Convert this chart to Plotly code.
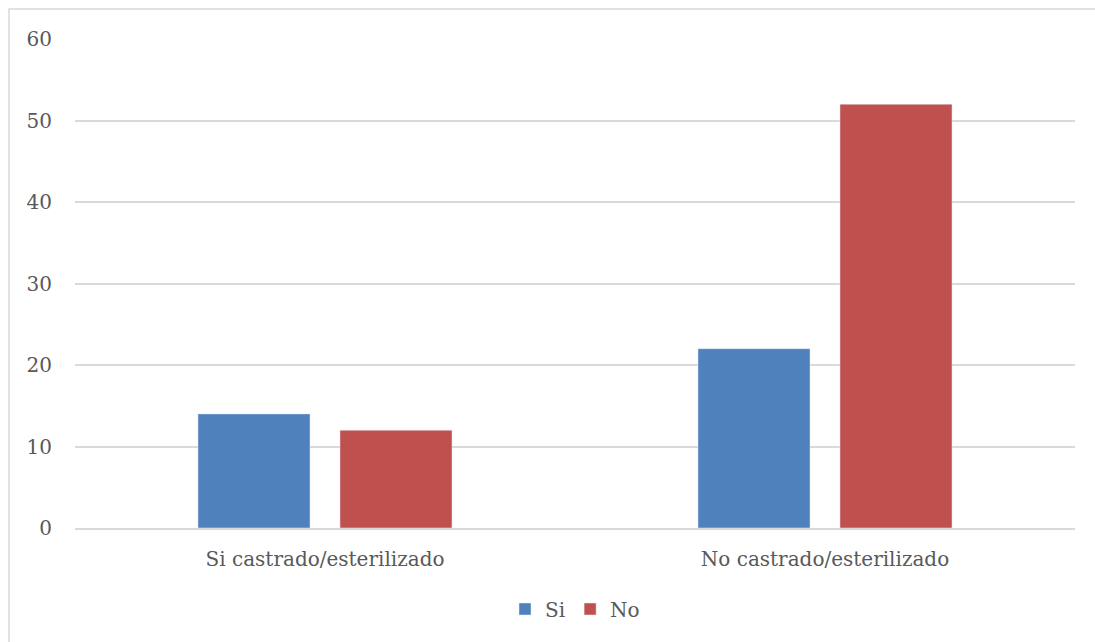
import plotly.graph_objects as go

categories = ["Si castrado/esterilizado", "No castrado/esterilizado"]
si_values = [14, 22]
no_values = [12, 52]
y_ticks = [0, 10, 20, 30, 40, 50, 60]

W, H = 1095, 642
L, R, T, B = 75, 20, 39, 114
pw, ph = W - L - R, H - T - B

font = dict(family="DejaVu Serif, serif", size=20, color="#595959")

fig = go.Figure()
fig.add_trace(go.Bar(name="Si", x=categories, y=si_values, marker_color="#4F81BD"))
fig.add_trace(go.Bar(name="No", x=categories, y=no_values, marker_color="#C0504D"))

fig.update_layout(
    width=W, height=H,
    margin=dict(l=L, r=R, t=T, b=B),
    paper_bgcolor="white", plot_bgcolor="white",
    barmode="group", bargap=0.432, bargroupgap=0.211,
    font=font,
    showlegend=True,
    legend=dict(orientation="h", x=0.5, xanchor="center", y=(528 - 609) / ph, yanchor="middle",
                font=font, itemwidth=30, traceorder="normal"),
    xaxis=dict(showgrid=False, showline=True, linecolor="#d9d9d9", linewidth=1.5,
               ticks="", tickfont=font, ticklabelstandoff=12),
    yaxis=dict(range=[0, 60], tickvals=y_ticks, showgrid=True, gridcolor="#d9d9d9",
               gridwidth=1.5, zeroline=False, showline=False, ticks="", tickfont=font,
               ticklabelstandoff=22),
)
fig.add_shape(type="rect", xref="paper", yref="paper",
              x0=(9 - L) / pw, x1=(W + 5 - L) / pw,
              y0=(H - B - (H + 5)) / ph, y1=(H - B - 9) / ph,
              line=dict(color="#d9d9d9", width=1.5), fillcolor="rgba(0,0,0,0)", layer="below")
fig.write_html("out.html", config={"displayModeBar": False},
               post_script="document.body.style.margin='0';")
